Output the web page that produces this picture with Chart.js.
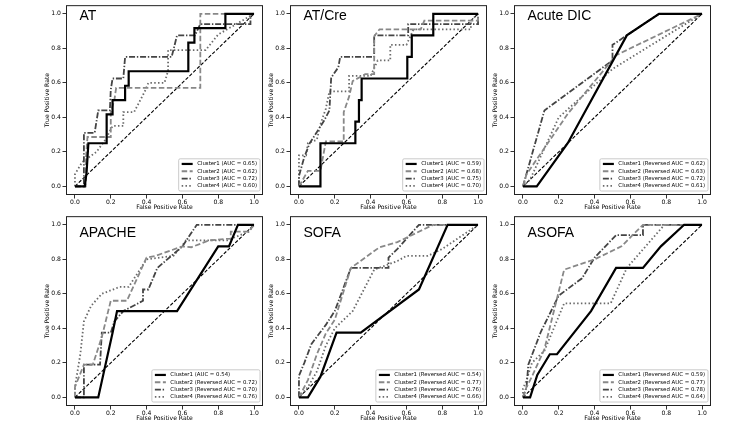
<!DOCTYPE html>
<html>
<head>
<meta charset="utf-8">
<script src="https://cdn.jsdelivr.net/npm/chart.js@4.4.0/dist/chart.umd.min.js"></script>
<style>
  body { margin: 0; background: #fff; }
  #wrap { position: relative; width: 750px; height: 422px; overflow: hidden; }
  #wrap canvas { position: absolute; }
</style>
</head>
<body>
<div id="wrap"></div>
<script>
// tick values shared by every panel
const tickValues = [0, 0.2, 0.4, 0.6, 0.8, 1.0];

const panelTitles = ['AT', 'AT/Cre', 'Acute DIC', 'APACHE', 'SOFA', 'ASOFA'];
const panelAUC = [
    [0.65, 0.62, 0.72, 0.60],
    [0.59, 0.68, 0.75, 0.70],
    [0.62, 0.63, 0.72, 0.61],
    [0.54, 0.72, 0.70, 0.76],
    [0.54, 0.77, 0.76, 0.66],
    [0.59, 0.77, 0.78, 0.64]
];
const panelReversed = [
    [false, false, false, false],
    [false, false, false, false],
    [true, true, true, true],
    [false, true, true, true],
    [true, true, true, true],
    [true, true, true, true]
];

// ROC curves as [fpr, tpr] points
const at1 = [[0,0],[0.055,0],[0.065,0.083],[0.075,0.25],[0.177,0.25],[0.177,0.417],[0.21,0.417],[0.21,0.5],[0.28,0.5],[0.28,0.583],[0.3,0.583],[0.3,0.667],[0.633,0.667],[0.633,0.833],[0.667,0.833],[0.667,0.917],[0.84,0.917],[0.84,1],[1,1]];
const at2 = [[0,0],[0.06,0],[0.06,0.143],[0.07,0.286],[0.2,0.286],[0.2,0.43],[0.22,0.5],[0.23,0.571],[0.7,0.571],[0.7,1],[1,1]];
const at3 = [[0,0],[0.05,0],[0.05,0.31],[0.11,0.31],[0.13,0.44],[0.195,0.44],[0.2,0.56],[0.21,0.625],[0.27,0.625],[0.28,0.75],[0.54,0.75],[0.57,0.875],[0.67,0.875],[0.7,0.94],[0.98,0.94],[0.98,1],[1,1]];
const at4 = [[0,0],[0,0.07],[0.04,0.14],[0.12,0.2],[0.17,0.27],[0.21,0.35],[0.27,0.35],[0.27,0.43],[0.33,0.43],[0.39,0.55],[0.41,0.6],[0.5,0.6],[0.52,0.67],[0.52,0.79],[0.73,0.79],[0.8,0.88],[0.9,0.94],[0.95,0.97],[1,1]];

const ac1 = [[0,0],[0.12,0],[0.12,0.25],[0.315,0.25],[0.315,0.375],[0.335,0.375],[0.335,0.5],[0.35,0.5],[0.35,0.625],[0.605,0.625],[0.605,0.75],[0.63,0.75],[0.63,0.875],[0.75,0.875],[0.75,1],[1,1]];
const ac2 = [[0,0],[0.05,0.09],[0.12,0.09],[0.15,0.26],[0.25,0.26],[0.25,0.43],[0.28,0.52],[0.3,0.61],[0.37,0.65],[0.42,0.65],[0.42,0.87],[0.45,0.91],[0.68,0.91],[0.7,0.96],[1,0.96],[1,1]];
const ac3 = [[0,0],[0,0.06],[0.03,0.17],[0.06,0.25],[0.14,0.38],[0.17,0.44],[0.18,0.63],[0.22,0.69],[0.23,0.75],[0.42,0.75],[0.42,0.875],[0.61,0.875],[0.61,0.94],[1,0.94],[1,1]];
const ac4 = [[0,0],[0,0.18],[0.04,0.18],[0.05,0.25],[0.1,0.27],[0.12,0.36],[0.15,0.45],[0.17,0.55],[0.28,0.55],[0.28,0.64],[0.4,0.64],[0.44,0.73],[0.51,0.73],[0.51,0.82],[0.6,0.82],[0.64,0.91],[0.96,0.91],[0.96,0.96],[1,1]];

const dic1 = [[0,0],[0.077,0],[0.25,0.25],[0.58,0.875],[0.76,1],[1,1]];
const dic2 = [[0,0],[0.02,0.07],[0.25,0.42],[0.52,0.76],[1,1]];
const dic3 = [[0,0],[0.12,0.44],[0.5,0.73],[0.5,0.82],[0.58,0.875],[0.76,1],[1,1]];
const dic4 = [[0,0],[0.04,0.04],[0.2,0.4],[0.5,0.68],[1,1]];

const ap1 = [[0,0],[0.13,0],[0.21,0.375],[0.235,0.5],[0.57,0.5],[0.8,0.875],[0.86,0.875],[0.91,1],[1,1]];
const ap2 = [[0,0],[0,0.06],[0.05,0.19],[0.1,0.19],[0.15,0.35],[0.2,0.56],[0.29,0.56],[0.4,0.81],[0.45,0.82],[0.6,0.875],[0.65,0.87],[0.75,0.91],[0.87,0.92],[0.87,0.96],[0.97,0.96],[1,1]];
const ap3 = [[0,0],[0.05,0],[0.05,0.19],[0.14,0.19],[0.15,0.375],[0.2,0.375],[0.22,0.44],[0.27,0.5],[0.38,0.56],[0.38,0.625],[0.41,0.625],[0.46,0.75],[0.6,0.875],[0.68,1],[1,1]];
const ap4 = [[0,0],[0,0.06],[0.03,0.25],[0.05,0.44],[0.09,0.53],[0.15,0.6],[0.25,0.64],[0.3,0.64],[0.4,0.8],[0.55,0.82],[0.6,0.88],[0.62,0.91],[0.85,0.91],[0.97,0.96],[1,1]];

const so1 = [[0,0],[0.05,0],[0.12,0.12],[0.21,0.375],[0.345,0.375],[0.67,0.625],[0.83,1],[1,1]];
const so2 = [[0,0],[0.05,0.1],[0.1,0.25],[0.15,0.37],[0.2,0.45],[0.29,0.75],[0.45,0.87],[0.55,0.9],[0.75,1],[1,1]];
const so3 = [[0,0],[0,0.125],[0.03,0.2],[0.07,0.31],[0.15,0.42],[0.2,0.5],[0.29,0.75],[0.5,0.75],[0.5,0.81],[0.55,0.86],[0.67,1],[1,1]];
const so4 = [[0,0],[0.05,0.06],[0.1,0.15],[0.15,0.3],[0.2,0.4],[0.3,0.5],[0.42,0.74],[0.55,0.79],[0.6,0.82],[0.72,0.82],[0.8,0.86],[0.9,0.93],[1,1]];

const as1 = [[0,0],[0.04,0],[0.08,0.13],[0.15,0.25],[0.19,0.25],[0.38,0.5],[0.52,0.75],[0.67,0.75],[0.77,0.875],[0.9,1],[1,1]];
const as2 = [[0,0],[0.02,0.06],[0.05,0.12],[0.12,0.28],[0.23,0.74],[0.4,0.8],[0.55,0.875],[0.67,1],[1,1]];
const as3 = [[0,0],[0.02,0.06],[0.03,0.19],[0.1,0.38],[0.2,0.59],[0.33,0.69],[0.4,0.81],[0.52,0.94],[0.67,0.94],[0.67,1],[1,1]];
const as4 = [[0,0],[0,0.05],[0.02,0.1],[0.05,0.2],[0.12,0.27],[0.23,0.545],[0.49,0.545],[0.58,0.75],[0.79,1],[1,1]];

const diagonal = [[0,0],[1,1]];

const panelCurves = [
    [at1, at2, at3, at4],
    [ac1, ac2, ac3, ac4],
    [dic1, dic2, dic3, dic4],
    [ap1, ap2, ap3, ap4],
    [so1, so2, so3, so4],
    [as1, as2, as3, as4]
];

// line styles per cluster (solid, dashed, dash-dot, dotted)
const clusterStyles = [
    { color: '#000000', width: 2.2, dash: [] },
    { color: '#888888', width: 1.8, dash: [5.5, 2.5] },
    { color: '#444444', width: 1.8, dash: [6, 1.8, 1.4, 1.8] },
    { color: '#6a6a6a', width: 1.8, dash: [1.5, 2.3] }
];

// layout of the 2x3 grid (plot-area corners)
const colLefts = [66, 290, 514];
const rowTops = [3, 214];
const titleBaseline = [15, 21];
const areaW = 197, areaH = 192;
const smallFont = { family: 'DejaVu Sans', size: 6.1 };

// frame + panel title
const framePlugin = {
    id: 'frame',
    afterDraw(chart, args, opts) {
        const { ctx, chartArea: a } = chart;
        ctx.save();
        ctx.strokeStyle = '#222';
        ctx.lineWidth = 1;
        ctx.strokeRect(a.left + 0.5, a.top + 0.5, a.width - 1, a.height - 1);
        ctx.fillStyle = '#000';
        ctx.font = '14px "Liberation Sans", Arial, sans-serif';
        ctx.textBaseline = 'alphabetic';
        ctx.fillText(opts.title, a.left + 13.5, a.top + opts.baseline);
        ctx.restore();
    }
};

// legend box in the lower right of the plot area
const insideLegend = {
    id: 'insideLegend',
    afterDatasetsDraw(chart) {
        const { ctx, chartArea: a } = chart;
        const items = chart.data.datasets.filter(d => d.label);
        ctx.save();
        ctx.font = '5.4px "DejaVu Sans"';
        const textW = Math.max(...items.map(d => ctx.measureText(d.label).width));
        const pad = 3, handle = 11, gap = 4.5, row = 7.3;
        const w = pad + handle + gap + textW + pad;
        const h = row * items.length + 3;
        const x = a.right - 3 - w, y = a.bottom - 4 - h;
        ctx.fillStyle = 'rgba(255,255,255,0.85)';
        ctx.strokeStyle = '#bdbdbd';
        ctx.lineWidth = 0.8;
        ctx.beginPath();
        ctx.roundRect(x, y, w, h, 1.5);
        ctx.fill();
        ctx.stroke();
        items.forEach((d, i) => {
            const cy = y + 1.5 + row * (i + 0.5);
            ctx.strokeStyle = d.borderColor;
            ctx.lineWidth = d.borderWidth;
            ctx.setLineDash(d.borderDash || []);
            ctx.beginPath();
            ctx.moveTo(x + pad, cy);
            ctx.lineTo(x + pad + handle, cy);
            ctx.stroke();
            ctx.setLineDash([]);
            ctx.fillStyle = '#000';
            ctx.textBaseline = 'middle';
            ctx.fillText(d.label, x + pad + handle + gap, cy);
        });
        ctx.restore();
    }
};

function toPoints(list) {
    return list.map(p => ({ x: p[0], y: p[1] }));
}

function axisOptions(titleText, isX) {
    return {
        type: 'linear',
        min: -0.05,
        max: 1.05,
        afterBuildTicks: axis => { axis.ticks = tickValues.map(v => ({ value: v })); },
        afterFit: scale => { if (isX) scale.height = 16; else scale.width = 22; },
        grid: { drawOnChartArea: false, tickLength: 3.5, color: '#000', lineWidth: 0.8 },
        border: { display: false },
        ticks: {
            padding: isX ? 0.5 : 1.5,
            font: smallFont,
            color: '#000',
            autoSkip: false,
            maxRotation: 0,
            callback: v => v.toFixed(1)
        },
        title: { display: true, text: titleText, font: smallFont, color: '#000', padding: 0 }
    };
}

const wrap = document.getElementById('wrap');

panelTitles.forEach((title, p) => {
    const col = p % 3, row = Math.floor(p / 3);
    const canvas = document.createElement('canvas');
    canvas.width = 24 + areaW + 5;
    canvas.height = 3 + areaH + 16;
    canvas.style.left = (colLefts[col] - 24) + 'px';
    canvas.style.top = (rowTops[row] - 3) + 'px';
    wrap.appendChild(canvas);

    const datasets = panelCurves[p].map((curve, i) => ({
        label: `Cluster${i + 1} (${panelReversed[p][i] ? 'Reversed ' : ''}AUC = ${panelAUC[p][i].toFixed(2)})`,
        data: toPoints(curve),
        showLine: true,
        borderColor: clusterStyles[i].color,
        borderWidth: clusterStyles[i].width,
        borderDash: clusterStyles[i].dash,
        pointRadius: 0,
        fill: false,
        tension: 0
    }));
    datasets.push({
        label: '',
        data: toPoints(diagonal),
        showLine: true,
        borderColor: '#000',
        borderWidth: 1.1,
        borderDash: [3.5, 1.8],
        pointRadius: 0,
        fill: false
    });

    new Chart(canvas, {
        type: 'scatter',
        data: { datasets: datasets },
        options: {
            responsive: false,
            animation: false,
            layout: { padding: { left: 2, top: 3, right: 5, bottom: 0 } },
            plugins: {
                legend: { display: false },
                tooltip: { enabled: false },
                frame: { title: title, baseline: titleBaseline[row] }
            },
            scales: {
                x: axisOptions('False Positive Rate', true),
                y: axisOptions('True Positive Rate', false)
            }
        },
        plugins: [framePlugin, insideLegend]
    });
});
</script>
</body>
</html>
